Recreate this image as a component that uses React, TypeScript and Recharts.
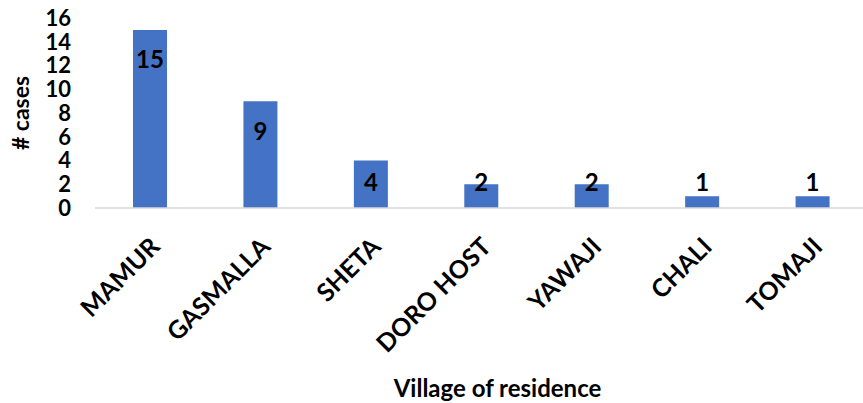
import { BarChart, Bar, XAxis, YAxis, LabelList } from 'recharts'

const villages = ['MAMUR', 'GASMALLA', 'SHETA', 'DORO HOST', 'YAWAJI', 'CHALI', 'TOMAJI']
const cases = [15, 9, 4, 2, 2, 1, 1]
const yTicks = [0, 2, 4, 6, 8, 10, 12, 14, 16]

const FONT = 'Lato, "Open Sans", sans-serif'
const BLUE = '#4472C4'

const data = villages.map((v, i) => ({ village: v, cases: cases[i] }))

function VillageTick({ x, y, payload }: any) {
  const ax = x + 5
  const ay = y + 26
  return (
    <text
      x={ax}
      y={ay}
      transform={`rotate(-45, ${ax}, ${ay})`}
      textAnchor="end"
      dy="0.35em"
      fontFamily={FONT}
      fontWeight="bold"
      fontSize={25}
      fill="#000"
    >
      {payload.value}
    </text>
  )
}

function ValueLabel({ x, y, width, height, value }: any) {
  // inside end, but never lower than just above the axis
  const cy = Math.min(y + 29, y + height - 26.5)
  return (
    <text
      x={x + width / 2}
      y={cy}
      textAnchor="middle"
      dominantBaseline="central"
      fontFamily={FONT}
      fontWeight="bold"
      fontSize={24}
      fill="#000"
    >
      {value}
    </text>
  )
}

export default function App() {
  return (
    <div style={{ position: 'absolute', left: 0, top: 0, width: 863, height: 403, overflow: 'hidden', background: '#fff' }}>
      <BarChart width={870} height={403} data={data} margin={{ top: 18, right: 2, bottom: 0, left: 0 }}>
        <XAxis
          dataKey="village"
          height={195}
          axisLine={{ stroke: '#D9D9D9', strokeWidth: 1.5 }}
          tickLine={false}
          interval={0}
          tick={<VillageTick />}
          label={{
            content: ({ viewBox }: any) => (
              <text
                x={viewBox.x + viewBox.width / 2 + 16}
                y={viewBox.y + viewBox.height - 6}
                textAnchor="middle"
                fontFamily={FONT}
                fontWeight="bold"
                fontSize={24}
                fill="#000"
              >
                Village of residence
              </text>
            ),
          }}
        />
        <YAxis
          width={95}
          domain={[0, 16]}
          ticks={yTicks}
          interval={0}
          axisLine={false}
          tickLine={false}
          tickSize={0}
          tickMargin={24}
          tick={{ fontFamily: FONT, fontWeight: 'bold', fontSize: 22, fill: '#000' }}
          label={{
            content: ({ viewBox }: any) => {
              const cx = viewBox.x + 20
              const cy = viewBox.y + viewBox.height / 2
              return (
                <text
                  x={cx}
                  y={cy}
                  transform={`rotate(-90, ${cx}, ${cy})`}
                  textAnchor="middle"
                  dominantBaseline="central"
                  fontFamily={FONT}
                  fontWeight="bold"
                  fontSize={23}
                  fill="#000"
                >
                  # cases
                </text>
              )
            },
          }}
        />
        <Bar dataKey="cases" fill={BLUE} barSize={34} isAnimationActive={false}>
          <LabelList dataKey="cases" content={<ValueLabel />} />
        </Bar>
      </BarChart>
    </div>
  )
}
